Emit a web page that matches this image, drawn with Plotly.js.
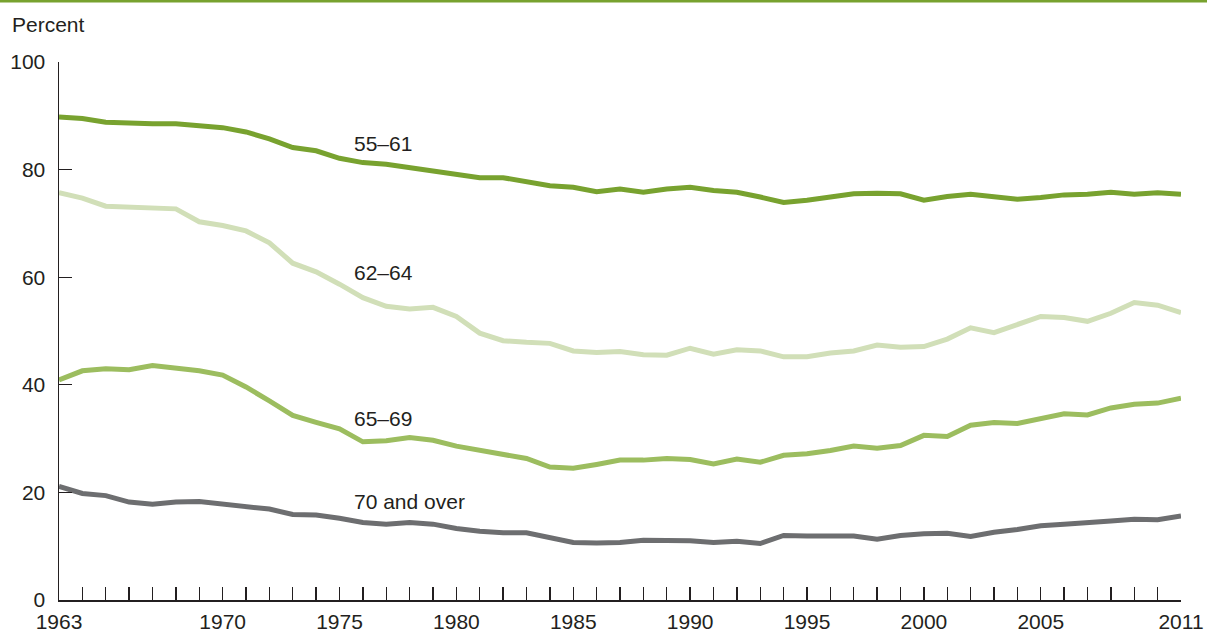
<!DOCTYPE html>
<html>
<head>
<meta charset="utf-8">
<script src="https://cdn.plot.ly/plotly-3.0.1.min.js"></script>
<style>
  html, body { margin: 0; padding: 0; background: #fff; }
  #chart { width: 1207px; height: 632px; }
</style>
</head>
<body>
<div id="chart"></div>
<script>
const years = [];
for (let y = 1963; y <= 2011; y += 1) years.push(y);

const age55to61 = [
  89.8, 89.5, 88.8, 88.6, 88.5, 88.5, 88.1, 87.8, 87.0, 85.7,
  84.1, 83.5, 82.1, 81.3, 81.0, 80.4, 79.7, 79.2, 78.5, 78.5,
  77.8, 77.0, 76.7, 75.9, 76.4, 75.8, 76.4, 76.7, 76.1, 75.8,
  74.9, 73.9, 74.3, 75.0, 75.5, 75.6, 75.5, 74.3, 75.0, 75.4,
  75.0, 74.5, 74.8, 75.3, 75.4, 75.8, 75.4, 75.7, 75.4,
];

const age62to64 = [
  75.7, 74.7, 73.2, 73.1, 72.8, 72.7, 70.3, 69.6, 68.6, 66.4,
  62.6, 61.0, 58.7, 56.2, 54.6, 54.1, 54.4, 52.7, 49.6, 48.2,
  47.9, 47.7, 46.3, 46.0, 46.2, 45.6, 45.5, 46.8, 45.7, 46.5,
  46.3, 45.2, 45.2, 45.9, 46.3, 47.4, 47.0, 47.1, 48.5, 50.6,
  49.7, 51.1, 52.7, 52.5, 51.8, 53.3, 55.3, 54.8, 53.4,
];

const age65to69 = [
  40.9, 42.6, 43.0, 42.8, 43.6, 43.2, 42.6, 41.8, 39.6, 37.0,
  34.3, 33.0, 31.8, 29.4, 29.6, 30.2, 29.7, 28.6, 27.9, 27.1,
  26.3, 24.7, 24.5, 25.2, 26.0, 26.0, 26.3, 26.1, 25.3, 26.2,
  25.6, 26.9, 27.2, 27.8, 28.6, 28.2, 28.7, 30.6, 30.4, 32.5,
  33.0, 32.8, 33.8, 34.6, 34.4, 35.7, 36.4, 36.6, 37.5,
];

const age70plus = [
  21.1, 19.8, 19.4, 18.2, 17.8, 18.2, 18.3, 17.8, 17.2, 16.9,
  15.9, 15.8, 15.2, 14.4, 14.1, 14.4, 14.1, 13.3, 12.8, 12.5,
  12.5, 11.6, 10.7, 10.6, 10.7, 11.1, 11.1, 11.0, 10.7, 10.9,
  10.5, 12.0, 11.9, 11.8, 11.9, 11.3, 12.0, 12.3, 12.4, 11.8,
  12.6, 13.1, 13.8, 14.1, 14.3, 14.7, 15.0, 14.9, 15.6,
];

// only some years get a label, the rest are bare ticks
const labelledYears = [1963, 1970, 1975, 1980, 1985, 1990, 1995, 2000, 2005, 2011];
const yTicks = [0, 20, 40, 60, 80, 100];

const seriesNames = ['55–61', '62–64', '65–69', '70 and over'];
// where each series label sits (x year, y percent)
const labelX = [1975.55, 1975.55, 1975.55, 1975.55];
const labelY = [84.9, 60.8, 33.8, 18.4];

const INK = '#231f20';
const FONT = 'Liberation Sans, Arial, Helvetica, sans-serif';
const FONT_SIZE = 21;

const colors = ['#78a22f', '#d1dfb8', '#9cbd5f', '#6d6e70'];
const seriesData = [age55to61, age62to64, age65to69, age70plus];

const traces = seriesData.map((values, i) => ({
  type: 'scatter',
  mode: 'lines',
  x: years,
  y: values,
  name: seriesNames[i],
  line: { color: colors[i], width: 5 },
  hoverinfo: 'skip',
}));

const annotations = seriesNames.map((name, i) => ({
  x: labelX[i],
  y: labelY[i],
  xref: 'x',
  yref: 'y',
  text: name,
  showarrow: false,
  xanchor: 'left',
  yanchor: 'middle',
  font: { family: FONT, size: FONT_SIZE, color: INK },
}));

// plot area is 1122 x 538 px
annotations.push({
  x: -49 / 1122,
  y: (600 - 24) / 538,
  xref: 'paper',
  yref: 'paper',
  text: 'Percent',
  showarrow: false,
  xanchor: 'left',
  yanchor: 'middle',
  font: { family: FONT, size: FONT_SIZE, color: INK },
});

const layout = {
  width: 1207,
  height: 632,
  margin: { l: 59, r: 26, t: 62, b: 32 },
  paper_bgcolor: '#fff',
  plot_bgcolor: '#fff',
  showlegend: false,
  font: { family: FONT, size: FONT_SIZE, color: INK },
  xaxis: {
    range: [1963, 2011],
    showgrid: false,
    zeroline: false,
    showline: true,
    linecolor: INK,
    linewidth: 1.5,
    ticks: 'inside',
    ticklen: 13,
    tickwidth: 1.3,
    tickcolor: INK,
    tickmode: 'array',
    tickvals: years,
    ticktext: years.map((y) => (labelledYears.includes(y) ? String(y) : '')),
    tickfont: { family: FONT, size: FONT_SIZE, color: INK },
    ticklabelstandoff: 2,
    fixedrange: true,
  },
  yaxis: {
    range: [0, 100],
    showgrid: false,
    zeroline: false,
    showline: true,
    linecolor: INK,
    linewidth: 1.5,
    ticks: 'inside',
    ticklen: 13,
    tickwidth: 1.3,
    tickcolor: INK,
    tickmode: 'array',
    tickvals: yTicks,
    ticktext: yTicks.map(String),
    tickfont: { family: FONT, size: FONT_SIZE, color: INK },
    ticklabelstandoff: 8,
    fixedrange: true,
  },
  shapes: [
    {
      // green rule across the top of the figure
      type: 'line',
      xref: 'paper',
      yref: 'paper',
      x0: -59 / 1122,
      x1: (1207 - 59) / 1122,
      y0: (600 - 1) / 538,
      y1: (600 - 1) / 538,
      line: { color: '#78a22f', width: 3 },
    },
  ],
  annotations,
};

Plotly.newPlot('chart', traces, layout, { displayModeBar: false, staticPlot: true });
</script>
</body>
</html>
